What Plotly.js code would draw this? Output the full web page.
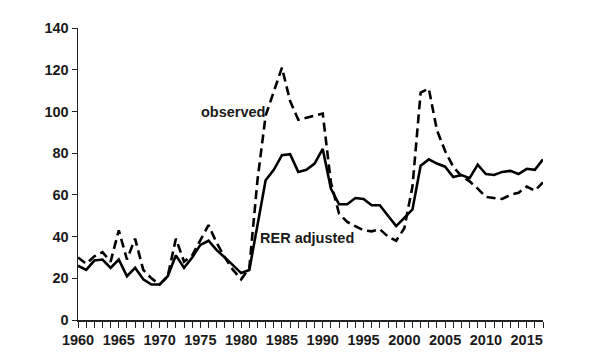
<!DOCTYPE html>
<html>
<head>
<meta charset="utf-8">
<script src="https://cdn.plot.ly/plotly-3.0.1.min.js"></script>
<style>html,body{margin:0;padding:0;background:#fff;}#chart{width:600px;height:360px;}</style>
</head>
<body>
<div id="chart"></div>
<script>
const years = [];
for (let y = 1960; y <= 2017; y++) years.push(y);

const rerAdjusted = [26, 24, 28.5, 29, 25, 29, 21, 25, 19.5, 17, 17, 21, 31, 25, 30, 36, 38, 33.5, 30, 26, 22.5, 24,
  45, 67, 72, 79, 79.5, 71, 72, 75, 82, 63, 55.5, 55.5, 58.5, 58, 55, 55, 50, 45, 49, 53,
  74, 77, 75, 73.5, 68.5, 69.5, 68, 74.5, 70, 69.5, 71, 71.5, 70, 72.5, 72, 77];

const observed = [30, 27, 30.5, 32.5, 28, 43, 29, 39, 24, 20, 17, 21, 39, 28, 31, 38, 45.5, 37, 30, 24, 19.5, 25,
  67, 98, 110, 121, 105, 96, 97, 98, 99, 66, 51, 47, 45, 43, 42.5, 43.5, 40, 38, 44, 64,
  109, 111, 91, 81, 73.5, 69, 66.5, 63, 59, 58.5, 58, 60, 61, 64, 62, 66];

const yTicks = [0, 20, 40, 60, 80, 100, 120, 140];
const xTicks = [1960, 1965, 1970, 1975, 1980, 1985, 1990, 1995, 2000, 2005, 2010, 2015];

const labelObserved = "observed";
const labelAdjusted = "RER adjusted";

const lab = {family: "Liberation Sans, Arial, sans-serif", size: 14.5, color: "#1a1a1a", weight: "bold"};

const traces = [
  {x: years, y: observed, type: "scatter", mode: "lines", name: labelObserved,
   line: {color: "#000", width: 2.6, dash: "9px,5px"}},
  {x: years, y: rerAdjusted, type: "scatter", mode: "lines", name: labelAdjusted,
   line: {color: "#000", width: 2.6}}
];

const layout = {
  width: 600, height: 360,
  margin: {l: 78, r: 57, t: 28, b: 40},
  paper_bgcolor: "#fff", plot_bgcolor: "#fff",
  showlegend: false,
  xaxis: {
    range: [1960, 2017], tickvals: xTicks, ticktext: xTicks.map(String),
    ticks: "outside", ticklen: 6, tickwidth: 1, tickcolor: "#222",
    minor: {dtick: 1, tick0: 1960, ticks: "outside", ticklen: 6, tickwidth: 1, tickcolor: "#222", showgrid: false},
    showline: true, linecolor: "#222", linewidth: 1.5,
    showgrid: false, zeroline: false, tickfont: lab
  },
  yaxis: {
    range: [0, 140], tickvals: yTicks, ticktext: yTicks.map(String),
    ticks: "outside", ticklen: 5, tickwidth: 1, tickcolor: "#222",
    showline: true, linecolor: "#222", linewidth: 1.5,
    showgrid: false, zeroline: false, tickfont: lab
  },
  annotations: [
    {x: 1979.0, y: 99.8, xref: "x", yref: "y", text: labelObserved, showarrow: false, font: lab, xanchor: "center", yanchor: "middle"},
    {x: 1988.1, y: 39.3, xref: "x", yref: "y", text: labelAdjusted, showarrow: false, font: lab, xanchor: "center", yanchor: "middle"}
  ]
};

Plotly.newPlot("chart", traces, layout, {staticPlot: true, displayModeBar: false});
</script>
</body>
</html>
